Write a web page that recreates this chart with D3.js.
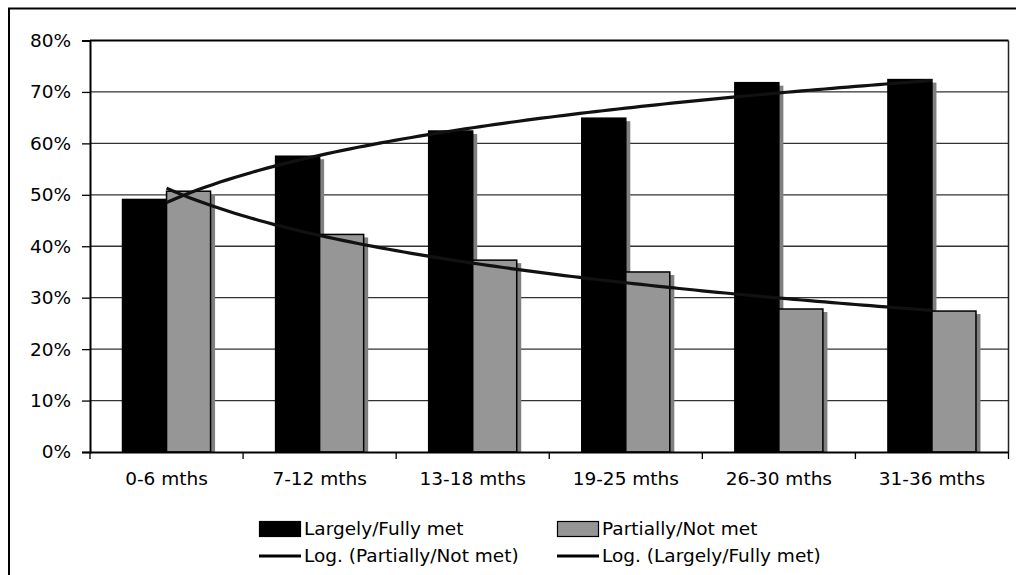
<!DOCTYPE html>
<html>
<head>
<meta charset="utf-8">
<script src="https://cdn.jsdelivr.net/npm/d3@7"></script>
<style>
body { margin: 0; background: #fff; }
text { font-family: "DejaVu Sans", Verdana, sans-serif; fill: #000; }
</style>
</head>
<body>
<div id="the_chart"></div>
<script>
var categories = ["0-6 mths", "7-12 mths", "13-18 mths", "19-25 mths", "26-30 mths", "31-36 mths"];
var largelyMet = [49.1, 57.5, 62.4, 64.9, 71.8, 72.4];
var partiallyMet = [50.7, 42.3, 37.3, 35.0, 27.8, 27.4];
var yTicks = [0, 10, 20, 30, 40, 50, 60, 70, 80];
var seriesNames = ["Largely/Fully met", "Partially/Not met"];

var w = 1016;
var h = 575;
var plotL = 90, plotR = 1008.5, plotT = 40.5, plotB = 452;
var fs = 18.5;

var svg = d3.select("#the_chart")
	.append("svg")
	.attr("width", w)
	.attr("height", h);

// outer frame (runs off the right and bottom edge)
svg.append("rect")
	.attr("x", 9).attr("y", 8.5)
	.attr("width", 1020).attr("height", 580)
	.attr("fill", "none").attr("stroke", "#000").attr("stroke-width", 2);

var pad = 65 / 153;
var xscale = d3.scaleBand()
	.domain(categories)
	.range([plotL, plotR])
	.paddingInner(pad)
	.paddingOuter(pad / 2);

var xinner = d3.scaleBand()
	.domain([0, 1])
	.range([0, xscale.bandwidth()]);

var yscale = d3.scaleLinear()
	.domain([0, 80])
	.range([plotB, plotT]);

// gridlines
svg.selectAll("line.grid")
	.data(yTicks.slice(1))
	.enter().append("line")
	.attr("class", "grid")
	.attr("x1", plotL).attr("x2", plotR)
	.attr("y1", function(d) { return yscale(d); })
	.attr("y2", function(d) { return yscale(d); })
	.attr("stroke", function(d) { return d == 80 ? "#000" : "#333"; })
	.attr("stroke-width", function(d) { return d == 80 ? 2 : 1.3; });

// right border of plot
svg.append("line")
	.attr("x1", plotR).attr("x2", plotR)
	.attr("y1", plotT).attr("y2", plotB)
	.attr("stroke", "#222").attr("stroke-width", 1.5);

var rows = categories.map(function(c, i) {
	return { cat: c, vals: [largelyMet[i], partiallyMet[i]] };
});

var fills = ["#000", "#969696"];

var groups = svg.selectAll("g.cat")
	.data(rows)
	.enter().append("g")
	.attr("class", "cat")
	.attr("transform", function(d) { return "translate(" + xscale(d.cat) + ",0)"; });

// shadows
groups.selectAll("rect.shadow")
	.data(function(d) { return d.vals; })
	.enter().append("rect")
	.attr("class", "shadow")
	.attr("x", function(d, i) { return xinner(i) + 4.5; })
	.attr("y", function(d) { return yscale(d) + 3; })
	.attr("width", xinner.bandwidth())
	.attr("height", function(d) { return plotB - yscale(d) - 3; })
	.attr("fill", "#808080");

groups.selectAll("rect.bar")
	.data(function(d) { return d.vals; })
	.enter().append("rect")
	.attr("class", "bar")
	.attr("x", function(d, i) { return xinner(i); })
	.attr("y", function(d) { return yscale(d); })
	.attr("width", xinner.bandwidth())
	.attr("height", function(d) { return plotB - yscale(d); })
	.attr("fill", function(d, i) { return fills[i]; })
	.attr("stroke", "#000")
	.attr("stroke-width", 1.5);

// logarithmic trendlines y = a*ln(x) + b, fitted to the bars
function logFit(vals) {
	var xs = vals.map(function(v, i) { return Math.log(i + 1); });
	var mx = d3.mean(xs), my = d3.mean(vals);
	var sxy = d3.sum(xs, function(x, i) { return (x - mx) * (vals[i] - my); });
	var sxx = d3.sum(xs, function(x) { return (x - mx) * (x - mx); });
	var a = sxy / sxx;
	var b = my - a * mx;
	return function(x) { return a * Math.log(x) + b; };
}

var xpos = d3.scaleLinear()
	.domain([1, categories.length])
	.range([xscale(categories[0]) + xscale.bandwidth() / 2,
	        xscale(categories[categories.length - 1]) + xscale.bandwidth() / 2]);

var steps = d3.range(1, categories.length + 0.001, 0.05);
var line = d3.line()
	.x(function(d) { return xpos(d[0]); })
	.y(function(d) { return yscale(d[1]); });

[largelyMet, partiallyMet].forEach(function(vals) {
	var f = logFit(vals);
	svg.append("path")
		.attr("d", line(steps.map(function(s) { return [s, f(s)]; })))
		.attr("fill", "none")
		.attr("stroke", "#111")
		.attr("stroke-width", 3.2);
});

// axes
var yaxis = d3.axisLeft(yscale)
	.tickValues(yTicks)
	.tickSize(8)
	.tickPadding(11)
	.tickFormat(function(d) { return d + "%"; });

var gy = svg.append("g")
	.attr("transform", "translate(" + plotL + ",0)")
	.call(yaxis);
gy.select(".domain").attr("stroke", "#000").attr("stroke-width", 2);
gy.selectAll(".tick line").attr("stroke", "#000").attr("stroke-width", 1.3);
gy.selectAll("text").style("font-size", fs + "px").style("font-family", "DejaVu Sans");

var xaxis = d3.axisBottom(xscale)
	.tickSizeInner(0)
	.tickSizeOuter(0)
	.tickPadding(20);

var gx = svg.append("g")
	.attr("transform", "translate(0," + plotB + ")")
	.call(xaxis);
gx.select(".domain").attr("stroke", "#000").attr("stroke-width", 2);
gx.selectAll("text").style("font-size", fs + "px").style("font-family", "DejaVu Sans");

// category boundary ticks
var bounds = categories.map(function(c) { return xscale(c) - xscale.step() * pad / 2; });
bounds.push(plotR);
svg.selectAll("line.xtick")
	.data(bounds)
	.enter().append("line")
	.attr("class", "xtick")
	.attr("x1", function(d) { return d; }).attr("x2", function(d) { return d; })
	.attr("y1", plotB).attr("y2", plotB + 7)
	.attr("stroke", "#000").attr("stroke-width", 1.3);

// legend
var legend = [
	{ label: "Largely/Fully met", type: "box", fill: "#000", x: 259, y: 529 },
	{ label: "Partially/Not met", type: "box", fill: "#969696", x: 557, y: 529 },
	{ label: "Log. (Partially/Not met)", type: "line", x: 259, y: 556 },
	{ label: "Log. (Largely/Fully met)", type: "line", x: 557, y: 556 }
];

var lg = svg.selectAll("g.legend")
	.data(legend)
	.enter().append("g")
	.attr("class", "legend")
	.attr("transform", function(d) { return "translate(" + d.x + "," + d.y + ")"; });

lg.filter(function(d) { return d.type == "box"; })
	.append("rect")
	.attr("x", 0.5).attr("y", -7.5)
	.attr("width", 41).attr("height", 15)
	.attr("fill", function(d) { return d.fill; })
	.attr("stroke", "#000").attr("stroke-width", 1.2);

lg.filter(function(d) { return d.type == "line"; })
	.append("line")
	.attr("x1", 0).attr("x2", 42)
	.attr("y1", 0).attr("y2", 0)
	.attr("stroke", "#000").attr("stroke-width", 3);

lg.append("text")
	.attr("x", 45)
	.attr("dy", "0.35em")
	.style("font-size", fs + "px")
	.text(function(d) { return d.label; });
</script>
</body>
</html>
